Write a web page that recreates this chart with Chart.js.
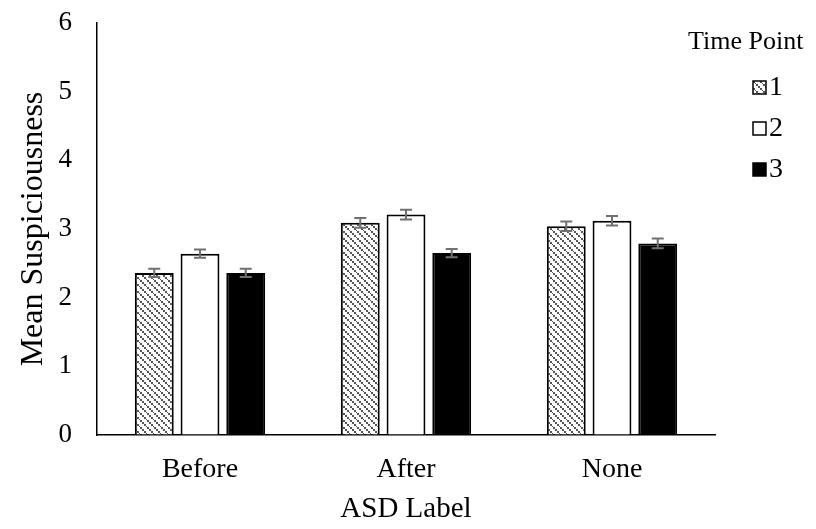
<!DOCTYPE html>
<html>
<head>
<meta charset="utf-8">
<script src="https://cdn.jsdelivr.net/npm/chart.js@4.4.0/dist/chart.umd.min.js"></script>
<style>
  body { margin: 0; background: #fff; }
  #wrap { width: 816px; height: 529px; }
</style>
</head>
<body>
<div id="wrap"><canvas id="myChart" width="816" height="529"></canvas></div>
<script>
// datos
const categorias = ['Before', 'After', 'None'];
const series = ['1', '2', '3'];
const punto1 = [2.36, 3.09, 3.04];
const punto2 = [2.64, 3.21, 3.12];
const punto3 = [2.36, 2.65, 2.79];
const error1 = [0.06, 0.07, 0.07];
const error2 = [0.06, 0.07, 0.07];
const error3 = [0.06, 0.06, 0.07];
const yTicks = [0, 1, 2, 3, 4, 5, 6];

const fuente = "'Liberation Serif', 'Times New Roman', serif";

//patron de rayas diagonales punteadas para la serie 1
const hatch = () => {
    const c = document.createElement('canvas');
    c.width = 7; c.height = 7;
    const g = c.getContext('2d');
    g.fillStyle = '#fff';
    g.fillRect(0, 0, 7, 7);
    g.fillStyle = '#555';
    // puntos sobre la diagonal
    for (let k = 0; k < 7; k += 2) {
        g.fillRect(k, k, 2, 2);
    }
    return g.createPattern(c, 'repeat');
}

const patron = hatch();

//plugin que dibuja las barras de error
const errorBars = {
    id: 'errorBars',
    afterDatasetsDraw(chart) {
        const ctx = chart.ctx;
        const y = chart.scales.y;
        ctx.save();
        ctx.strokeStyle = '#707070';
        ctx.lineWidth = 2;
        chart.data.datasets.forEach((ds, i) => {
            chart.getDatasetMeta(i).data.forEach((bar, j) => {
                const v = ds.data[j], e = ds.errores[j];
                const top = y.getPixelForValue(v + e);
                const bot = y.getPixelForValue(v - e);
                ctx.beginPath();
                ctx.moveTo(bar.x, top); ctx.lineTo(bar.x, bot);
                ctx.moveTo(bar.x - 6, top); ctx.lineTo(bar.x + 6, top);
                ctx.moveTo(bar.x - 6, bot); ctx.lineTo(bar.x + 6, bot);
                ctx.stroke();
            });
        });
        ctx.restore();
    }
}

//plugin de leyenda con titulo
const leyenda = {
    id: 'leyenda',
    afterDraw(chart) {
        const ctx = chart.ctx;
        ctx.save();
        ctx.fillStyle = '#000';
        ctx.font = `26px ${fuente}`;
        ctx.textBaseline = 'middle';
        ctx.textAlign = 'left';
        ctx.fillText('Time Point', 688, 42);
        ctx.font = `28px ${fuente}`;
        chart.data.datasets.forEach((ds, i) => {
            const yy = [87, 128, 169][i];
            ctx.fillStyle = ds.backgroundColor;
            ctx.fillRect(753, yy - 6, 13, 13);
            ctx.strokeStyle = '#000';
            ctx.lineWidth = 1.5;
            ctx.strokeRect(753, yy - 6, 13, 13);
            ctx.fillStyle = '#000';
            ctx.fillText(ds.label, 769, yy + 1);
        });
        ctx.restore();
    }
}

const datos = {
    labels: categorias,
    datasets: [
        { label: series[0], data: punto1, errores: error1, backgroundColor: patron, borderColor: '#000', borderWidth: 2 },
        { label: series[1], data: punto2, errores: error2, backgroundColor: '#fff', borderColor: '#000', borderWidth: 2 },
        { label: series[2], data: punto3, errores: error3, backgroundColor: '#000', borderColor: '#000', borderWidth: 2 }
    ]
}

const ctx = document.getElementById('myChart').getContext('2d');
window.myBarChart = new Chart(ctx, {
    type: 'bar',
    data: datos,
    plugins: [errorBars, leyenda],
    options: {
        responsive: false,
        animation: false,
        layout: { padding: { top: 23, right: 101, left: 0, bottom: 0 } },
        datasets: { bar: { categoryPercentage: 0.666, barPercentage: 0.85 } },
        plugins: { legend: { display: false }, tooltip: { enabled: false } },
        scales: {
            x: {
                grid: { display: false, drawTicks: false },
                border: { display: true, color: '#000', width: 1.5 },
                ticks: { color: '#000', font: { family: fuente, size: 28 }, padding: 18 },
                title: { display: true, text: 'ASD Label', color: '#000', font: { family: fuente, size: 29 }, padding: { top: 0, bottom: 2 } },
                afterFit: (s) => { s.height = 94; }
            },
            y: {
                min: 0, max: 6,
                afterBuildTicks: (s) => { s.ticks = yTicks.map(v => ({ value: v })); },
                // marcas invisibles para separar las etiquetas del eje sin empujar el area hacia abajo
                grid: { display: true, drawOnChartArea: false, drawTicks: true, tickLength: 17, color: 'rgba(0,0,0,0)' },
                border: { display: true, color: '#000', width: 1.5 },
                ticks: { color: '#000', font: { family: fuente, size: 27, lineHeight: 0.3 }, padding: 8 },
                title: { display: true, text: 'Mean Suspiciousness', color: '#000', font: { family: fuente, size: 32 }, padding: { top: 14, bottom: 0 } },
                afterFit: (s) => { s.width = 97; }
            }
        }
    }
});
</script>
</body>
</html>
